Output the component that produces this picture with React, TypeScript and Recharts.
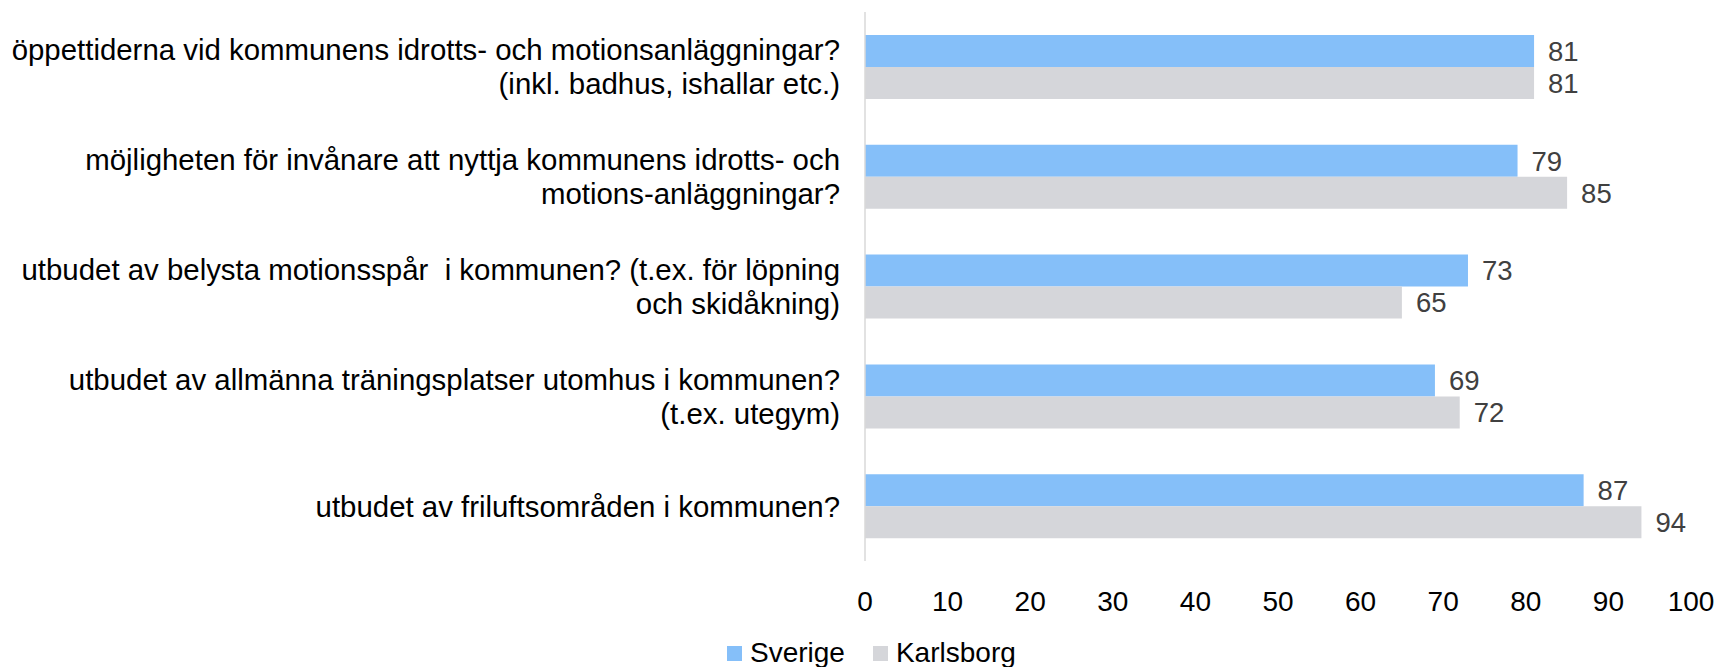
import { BarChart, Bar, XAxis, YAxis, LabelList } from "recharts";

const FONT = '"Liberation Sans", Arial, sans-serif';

const categories = [
  "öppettiderna vid kommunens idrotts- och motionsanläggningar?\n(inkl. badhus, ishallar etc.)",
  "möjligheten för invånare att nyttja kommunens idrotts- och\nmotions-anläggningar?",
  "utbudet av belysta motionsspår  i kommunen? (t.ex. för löpning\noch skidåkning)",
  "utbudet av allmänna träningsplatser utomhus i kommunen?\n(t.ex. utegym)",
  "utbudet av friluftsområden i kommunen?",
];
const sverige = [81, 79, 73, 69, 87];
const karlsborg = [81, 85, 65, 72, 94];
const xTicks = [0, 10, 20, 30, 40, 50, 60, 70, 80, 90, 100];

const series = [
  { key: "sverige", name: "Sverige", color: "#85BFF9" },
  { key: "karlsborg", name: "Karlsborg", color: "#D5D6DA" },
];

const data = categories.map((name, i) => ({
  name,
  sverige: sverige[i],
  karlsborg: karlsborg[i],
}));

const CatTick = (props: any) => {
  const { x, y, payload } = props;
  const lines: string[] = String(payload.value).split("\n");
  const lh = 34;
  const start = -((lines.length - 1) * lh) / 2;
  return (
    <text
      x={x}
      y={y}
      textAnchor="end"
      fontSize={29.4}
      fontFamily={FONT}
      fill="#000"
      style={{ whiteSpace: "pre" }}
    >
      {lines.map((l, i) => (
        <tspan key={i} x={x} y={y + start + i * lh} dy="0.36em">
          {l}
        </tspan>
      ))}
    </text>
  );
};

export default function App() {
  return (
    <div
      style={{
        position: "absolute",
        left: 0,
        top: 0,
        width: 1718,
        height: 667,
        background: "#fff",
        fontFamily: FONT,
      }}
    >
      <BarChart
        width={1718}
        height={667}
        data={data}
        layout="vertical"
        margin={{ top: 12, right: 27, left: 0, bottom: 46 }}
        barCategoryGap={23}
        barGap={0}
      >
        <XAxis
          type="number"
          domain={[0, 100]}
          ticks={xTicks}
          axisLine={false}
          tickLine={false}
          tickMargin={24}
          height={60}
          tick={{ fontSize: 28, fill: "#000", fontFamily: FONT }}
        />
        <YAxis
          type="category"
          dataKey="name"
          width={865}
          axisLine={{ stroke: "#D9D9D9", strokeWidth: 1.5 }}
          tickLine={false}
          tickSize={0}
          tickMargin={25}
          tick={<CatTick />}
          interval={0}
        />
        {series.map((s) => (
          <Bar
            key={s.key}
            dataKey={s.key}
            name={s.name}
            fill={s.color}
            isAnimationActive={false}
          >
            <LabelList
              dataKey={s.key}
              position="right"
              offset={14}
              fontSize={27.5}
              fill="#404040"
              fontFamily={FONT}
            />
          </Bar>
        ))}
      </BarChart>
      <div
        style={{
          position: "absolute",
          top: 636,
          left: 727,
          display: "flex",
          alignItems: "center",
          fontSize: 28,
          color: "#000",
          lineHeight: "34px",
        }}
      >
        {series.map((s, i) => (
          <div
            key={s.key}
            style={{
              display: "flex",
              alignItems: "center",
              marginLeft: i ? 28 : 0,
            }}
          >
            <div style={{ width: 15, height: 15, background: s.color, marginRight: 8 }} />
            <span>{s.name}</span>
          </div>
        ))}
      </div>
    </div>
  );
}
